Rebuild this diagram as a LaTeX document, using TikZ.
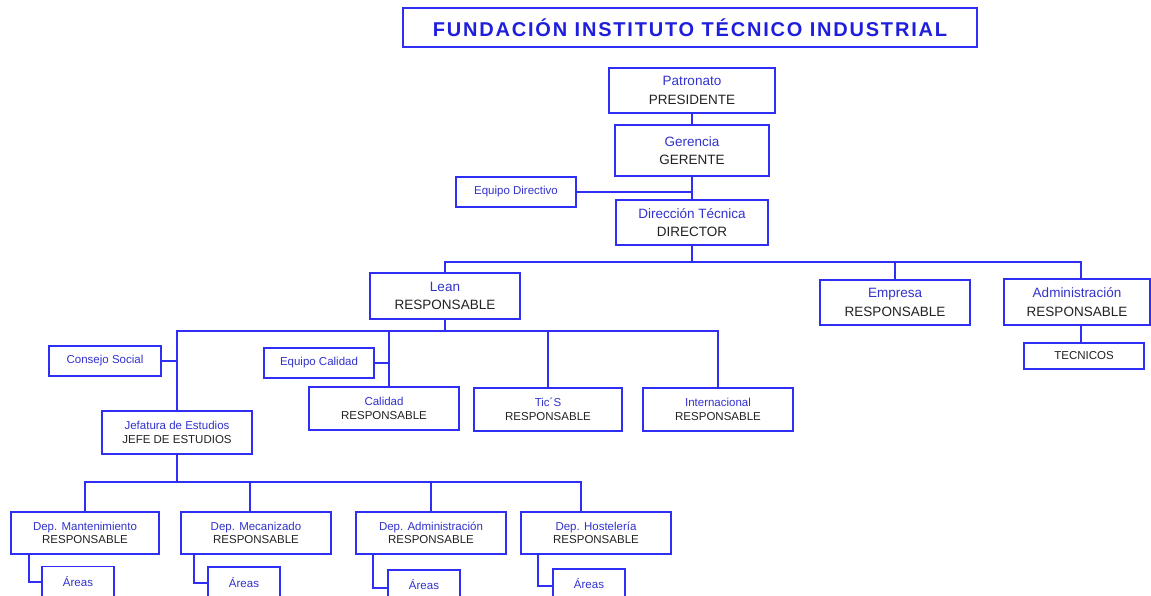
\documentclass[tikz,border=0pt]{standalone}
\usepackage{xcolor}
\usepackage{fontspec}
\setmainfont{Liberation Sans}
\usetikzlibrary{positioning, calc}
\definecolor{lineblue}{HTML}{2E2EF5}
\definecolor{nameblue}{HTML}{3232CC}
\definecolor{titleblue}{HTML}{1E1EDC}
\definecolor{rolegray}{HTML}{222222}

\tikzset{
  box/.style={draw=lineblue, line width=1.5pt, inner sep=0pt, outer sep=0pt,
    align=center, fill=white},
  bigbox/.style={box, font=\fontsize{13.5}{18.5}\selectfont},
  smallbox/.style={box, font=\fontsize{11.5}{13.5}\selectfont},
  link/.style={draw=lineblue, line width=1.5pt}
}
\newcommand{\unit}[2]{{\color{nameblue}#1}\\{\color{rolegray}#2}}

\begin{document}
\begin{tikzpicture}[x=1pt, y=-1pt]
    \useasboundingbox (0,0) rectangle (1151,595);

    % title
    \node[box, minimum width=574, minimum height=39,
      font=\fontsize{20}{24}\selectfont\bfseries\addfontfeatures{LetterSpace=9}]
      (title) at (690,27.5) {\color{titleblue}FUNDACIÓN INSTITUTO TÉCNICO INDUSTRIAL};

    % top of the chart
    \node[bigbox, minimum width=166, minimum height=45] (patr) at (692,90.5) {\unit{Patronato}{PRESIDENTE}};
    \node[bigbox, minimum width=154, minimum height=51] (ger) at (692,150.5) {\unit{Gerencia}{GERENTE}};
    \node[smallbox, minimum width=120, minimum height=30] (eqdir) at (516,192) {\color{nameblue}Equipo Directivo};
    \node[bigbox, minimum width=152, minimum height=45] (dir) at (692,222.5) {\unit{Dirección Técnica}{DIRECTOR}};

    % second level
    \node[bigbox, minimum width=150, minimum height=46] (lean) at (445,296) {\unit{Lean}{RESPONSABLE}};
    \node[bigbox, minimum width=150, minimum height=45] (emp) at (895,302.5) {\unit{Empresa}{RESPONSABLE}};
    \node[bigbox, minimum width=146, minimum height=46] (admin) at (1077,302) {\unit{Administración}{RESPONSABLE}};
    \node[smallbox, minimum width=120, minimum height=26] (tec) at (1084,356) {\color{rolegray}TECNICOS};

    % under Lean
    \node[smallbox, minimum width=112, minimum height=30] (consejo) at (105,361) {\color{nameblue}Consejo Social};
    \node[smallbox, minimum width=150, minimum height=43] (jefe) at (177,432.5) {\unit{Jefatura de Estudios}{JEFE DE ESTUDIOS}};
    \node[smallbox, minimum width=110, minimum height=30] (eqcal) at (319,363) {\color{nameblue}Equipo Calidad};
    \node[smallbox, minimum width=150, minimum height=43] (cal) at (384,408.5) {\unit{Calidad}{RESPONSABLE}};
    \node[smallbox, minimum width=148, minimum height=43] (tics) at (548,409.5) {\unit{Tic´S}{RESPONSABLE}};
    \node[smallbox, minimum width=150, minimum height=43] (inter) at (718,409.5) {\unit{Internacional}{RESPONSABLE}};

    % departments
    \node[smallbox, minimum width=148, minimum height=42] (dep1) at (85,533) {\unit{Dep. Mantenimiento}{RESPONSABLE}};
    \node[smallbox, minimum width=150, minimum height=42] (dep2) at (256,533) {\unit{Dep. Mecanizado}{RESPONSABLE}};
    \node[smallbox, minimum width=150, minimum height=42] (dep3) at (431,533) {\unit{Dep. Administración}{RESPONSABLE}};
    \node[smallbox, minimum width=150, minimum height=42] (dep4) at (596,533) {\unit{Dep. Hostelería}{RESPONSABLE}};
    \node[smallbox, minimum width=72, minimum height=31] (ar1) at (78,582) {\color{nameblue}Áreas};
    \node[smallbox, minimum width=72, minimum height=32] (ar2) at (244,583) {\color{nameblue}Áreas};
    \node[smallbox, minimum width=72, minimum height=30] (ar3) at (424,585) {\color{nameblue}Áreas};
    \node[smallbox, minimum width=72, minimum height=30] (ar4) at (589,584) {\color{nameblue}Áreas};

    % bus points
    \coordinate (b1) at (692,262);
    \coordinate (b2) at (445,331);
    \coordinate (b3) at (177,482);
    \coordinate (calTap) at ([xshift=5pt]cal.north);
    \coordinate (adminTap) at ([xshift=4pt]admin.north);
    \coordinate (dep2Tap) at ([xshift=-6pt]dep2.north);
    \coordinate (dep4Tap) at ([xshift=-15pt]dep4.north);

    % connectors
    \path[link] (patr.south) -- (ger.north);
    \path[link] (ger.south) -- (dir.north);
    \path[link] (eqdir.east) -- (eqdir.east -| ger.south);
    \path[link] (dir.south) -- (b1);
    \path[link] (lean.north) |- (b1) -| (adminTap);
    \path[link] (emp.north) -- (emp.north |- b1);
    \path[link] (adminTap |- admin.south) -- (adminTap |- tec.north);
    \path[link] (lean.south) -- (b2);
    \path[link] (jefe.north) |- (b2) -| (inter.north);
    \path[link] (calTap) -- (calTap |- b2);
    \path[link] (tics.north) -- (tics.north |- b2);
    \path[link] (consejo.east) -- (consejo.east -| jefe.north);
    \path[link] (eqcal.east) -- (eqcal.east -| calTap);
    \path[link] (jefe.south) -- (b3);
    \path[link] (dep1.north) |- (b3) -| (dep4Tap);
    \path[link] (dep2Tap) -- (dep2Tap |- b3);
    \path[link] (dep3.north) -- (dep3.north |- b3);
    \path[link] ([xshift=18pt]dep1.south west) |- (ar1.west);
    \path[link] ([xshift=13pt]dep2.south west) |- (ar2.west);
    \path[link] ([xshift=17pt]dep3.south west) |- ([yshift=-3pt]ar3.west);
    \path[link] ([xshift=17pt]dep4.south west) |- ([yshift=-2pt]ar4.west);
\end{tikzpicture}
\end{document}
